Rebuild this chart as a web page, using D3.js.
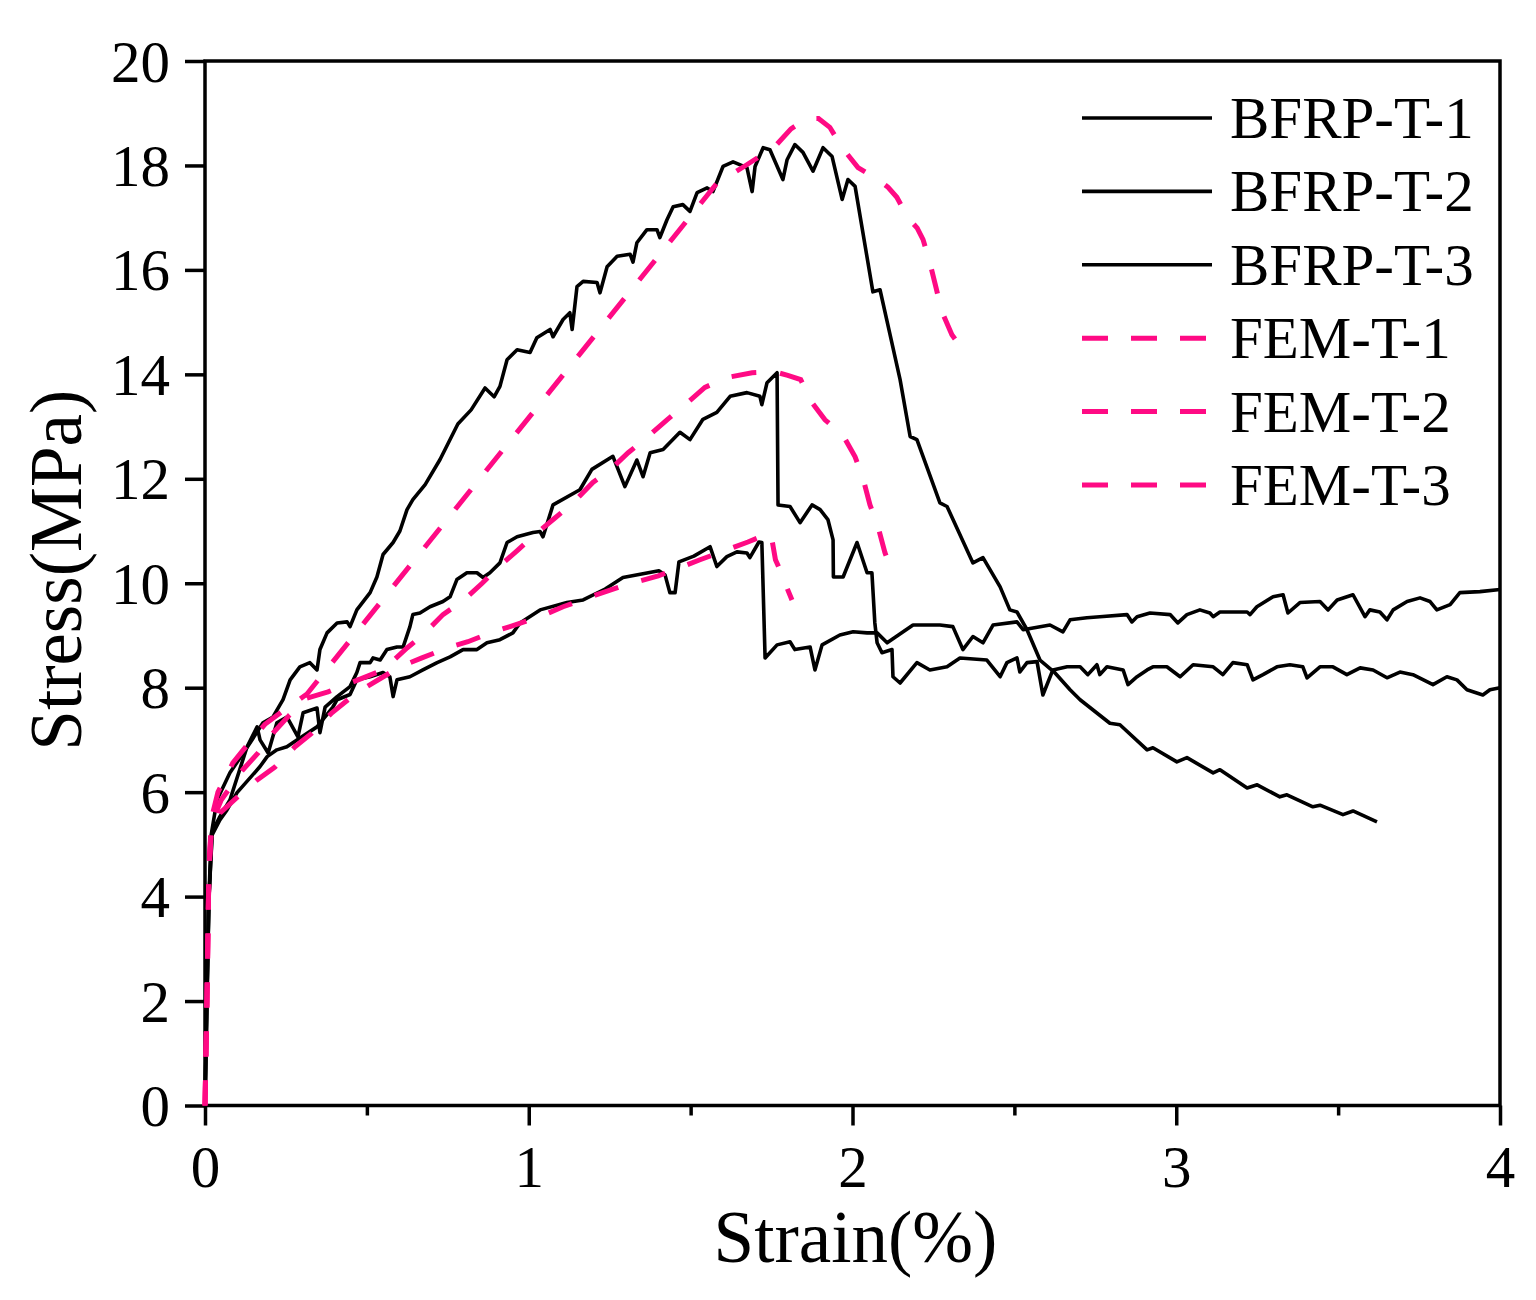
<!DOCTYPE html>
<html>
<head>
<meta charset="utf-8">
<script src="https://cdn.jsdelivr.net/npm/d3@7"></script>
<style>
  body { margin: 0; background: #fff; }
  svg { display: block; }
</style>
</head>
<body>
<svg id="chart" width="1536" height="1300"></svg>
<script>
// axis ticks
const xTicks = [0, 1, 2, 3, 4];
const xMinorTicks = [0.5, 1.5, 2.5, 3.5];
const yTicks = [0, 2, 4, 6, 8, 10, 12, 14, 16, 18, 20];

const seriesNames = ['BFRP-T-1', 'BFRP-T-2', 'BFRP-T-3', 'FEM-T-1', 'FEM-T-2', 'FEM-T-3'];

// test curves, [strain %, stress MPa]
const bfrpT1 = [[0,0],[0.006,2.02],[0.012,3.94],[0.019,5.18],[0.037,5.85],[0.077,6.37],[0.139,6.94],[0.179,7.33],[0.210,7.44],
  [0.241,7.77],[0.263,8.15],[0.293,8.40],[0.324,8.48],[0.346,8.34],[0.355,8.73],[0.377,9.05],[0.408,9.24],[0.439,9.26],
  [0.448,9.17],[0.469,9.49],[0.510,9.82],[0.531,10.12],[0.550,10.55],[0.581,10.78],[0.602,11.00],[0.624,11.41],[0.642,11.60],
  [0.680,11.89],[0.726,12.37],[0.781,13.05],[0.822,13.32],[0.865,13.74],[0.893,13.57],[0.911,13.77],[0.933,14.28],[0.964,14.47],
  [1.004,14.42],[1.025,14.70],[1.066,14.86],[1.075,14.72],[1.106,15.05],[1.127,15.18],[1.134,14.86],[1.149,15.68],[1.168,15.78],
  [1.211,15.76],[1.220,15.56],[1.242,16.06],[1.273,16.26],[1.313,16.30],[1.322,16.15],[1.334,16.52],[1.365,16.77],[1.396,16.77],
  [1.405,16.62],[1.427,16.96],[1.446,17.21],[1.476,17.25],[1.498,17.12],[1.520,17.48],[1.551,17.57],[1.569,17.50],[1.600,17.98],
  [1.631,18.07],[1.674,17.96],[1.690,17.50],[1.699,17.98],[1.724,18.34],[1.745,18.30],[1.785,17.73],[1.798,18.11],[1.822,18.40],
  [1.847,18.25],[1.878,17.89],[1.909,18.34],[1.937,18.17],[1.968,17.35],[1.986,17.73],[2.008,17.60],[2.063,15.58],[2.085,15.62],
  [2.116,14.76],[2.147,13.90],[2.178,12.81],[2.199,12.75],[2.270,11.54],[2.292,11.47],[2.372,10.39],[2.403,10.49],[2.456,9.93],
  [2.486,9.49],[2.508,9.45],[2.539,9.11],[2.579,8.53],[2.623,8.30],[2.672,7.96],[2.703,7.77],[2.795,7.32],[2.826,7.29],
  [2.910,6.81],[2.928,6.85],[3.002,6.58],[3.033,6.66],[3.114,6.37],[3.135,6.43],[3.219,6.08],[3.250,6.14],[3.320,5.91],
  [3.342,5.95],[3.422,5.72],[3.444,5.75],[3.515,5.57],[3.546,5.64],[3.620,5.43]];

const bfrpT2 = [[0,0],[0.006,2.02],[0.012,3.94],[0.022,5.24],[0.046,5.53],[0.077,5.85],[0.130,6.87],[0.161,7.25],[0.170,7.00],
  [0.195,6.75],[0.222,7.33],[0.253,7.44],[0.287,7.06],[0.303,7.52],[0.346,7.61],[0.355,7.14],[0.371,7.63],[0.408,7.83],
  [0.448,8.02],[0.469,8.29],[0.479,8.48],[0.510,8.48],[0.519,8.57],[0.541,8.53],[0.562,8.73],[0.593,8.78],[0.612,8.78],
  [0.633,9.17],[0.642,9.40],[0.664,9.43],[0.695,9.55],[0.735,9.65],[0.757,9.74],[0.778,10.07],[0.809,10.20],[0.840,10.20],
  [0.859,10.11],[0.880,10.20],[0.911,10.39],[0.933,10.78],[0.964,10.89],[1.013,10.97],[1.035,10.99],[1.044,10.89],[1.075,11.50],
  [1.158,11.79],[1.195,12.18],[1.260,12.43],[1.297,11.85],[1.334,12.36],[1.353,12.04],[1.375,12.50],[1.415,12.56],[1.467,12.89],
  [1.498,12.75],[1.538,13.14],[1.581,13.27],[1.622,13.58],[1.674,13.65],[1.714,13.58],[1.720,13.42],[1.736,13.84],[1.767,14.03],
  [1.770,11.50],[1.807,11.47],[1.838,11.16],[1.875,11.50],[1.900,11.41],[1.924,11.22],[1.940,10.83],[1.941,10.12],[1.971,10.12],
  [2.014,10.78],[2.045,10.20],[2.060,10.20],[2.069,9.24],[2.076,8.86],[2.091,8.67],[2.122,8.73],[2.125,8.21],[2.147,8.09],
  [2.199,8.48],[2.239,8.34],[2.292,8.40],[2.332,8.57],[2.415,8.53],[2.456,8.21],[2.477,8.48],[2.508,8.57],[2.517,8.30],
  [2.539,8.48],[2.570,8.50],[2.588,7.86],[2.619,8.34],[2.663,8.40],[2.703,8.40],[2.727,8.25],[2.755,8.44],[2.764,8.25],
  [2.786,8.40],[2.836,8.34],[2.851,8.06],[2.879,8.21],[2.910,8.34],[2.928,8.40],[2.971,8.40],[3.012,8.21],[3.052,8.44],
  [3.114,8.40],[3.144,8.25],[3.175,8.48],[3.219,8.44],[3.237,8.15],[3.268,8.25],[3.311,8.40],[3.351,8.44],[3.391,8.40],
  [3.404,8.19],[3.444,8.40],[3.484,8.40],[3.527,8.25],[3.568,8.38],[3.608,8.34],[3.651,8.19],[3.691,8.30],[3.731,8.25],
  [3.793,8.06],[3.836,8.21],[3.867,8.15],[3.898,7.96],[3.947,7.86],[3.969,7.96],[4.000,8.00]];

const bfrpT3 = [[0,0],[0.006,2.02],[0.012,3.94],[0.022,5.18],[0.046,5.47],[0.068,5.66],[0.099,5.99],[0.170,6.49],[0.192,6.68],
  [0.222,6.81],[0.253,6.87],[0.284,7.00],[0.346,7.25],[0.395,7.63],[0.408,7.77],[0.448,7.87],[0.469,8.15],[0.510,8.21],
  [0.550,8.29],[0.571,8.21],[0.581,7.83],[0.593,8.15],[0.633,8.21],[0.673,8.34],[0.717,8.48],[0.757,8.59],[0.797,8.73],
  [0.840,8.73],[0.871,8.86],[0.911,8.92],[0.951,9.05],[0.973,9.24],[1.035,9.49],[1.118,9.63],[1.168,9.68],[1.236,9.89],
  [1.291,10.11],[1.402,10.24],[1.421,10.16],[1.436,9.82],[1.452,9.82],[1.464,10.41],[1.510,10.52],[1.560,10.70],[1.581,10.32],
  [1.612,10.51],[1.643,10.60],[1.674,10.58],[1.683,10.49],[1.711,10.79],[1.720,10.78],[1.730,8.57],[1.767,8.82],[1.807,8.88],
  [1.822,8.73],[1.869,8.78],[1.884,8.34],[1.906,8.82],[1.961,9.01],[2.002,9.07],[2.045,9.05],[2.076,9.05],[2.107,8.86],
  [2.187,9.20],[2.270,9.20],[2.310,9.17],[2.341,8.73],[2.372,8.98],[2.403,8.86],[2.434,9.20],[2.508,9.26],[2.527,9.11],
  [2.610,9.20],[2.650,9.07],[2.672,9.30],[2.724,9.34],[2.764,9.36],[2.848,9.40],[2.863,9.26],[2.879,9.36],[2.919,9.43],
  [2.981,9.40],[3.005,9.24],[3.033,9.40],[3.073,9.49],[3.104,9.43],[3.114,9.36],[3.135,9.45],[3.219,9.45],[3.228,9.40],
  [3.249,9.55],[3.299,9.74],[3.330,9.78],[3.345,9.43],[3.382,9.63],[3.444,9.65],[3.469,9.49],[3.497,9.68],[3.546,9.78],
  [3.583,9.36],[3.598,9.49],[3.629,9.45],[3.651,9.30],[3.670,9.49],[3.713,9.65],[3.753,9.72],[3.784,9.65],[3.805,9.49],
  [3.846,9.59],[3.876,9.82],[3.938,9.84],[4.000,9.88]];

// finite element curves
const femT1 = [[0,0],[0.006,2.0],[0.012,4.5],[0.02,5.5],[0.04,6.0],[0.086,6.56],[0.13,6.9],[0.185,7.3],[0.24,7.55],[0.315,7.88],
  [1.58,17.65],[1.665,17.98],[1.72,18.2],[1.76,18.36],[1.81,18.7],[1.86,18.9],[1.895,18.9],[1.93,18.73],[1.968,18.34],
  [2.017,17.96],[2.079,17.73],[2.11,17.58],[2.137,17.39],[2.171,17.0],[2.2,16.8],[2.218,16.58],[2.239,16.14],[2.258,15.66],
  [2.276,15.2],[2.307,14.76],[2.351,14.38]];

const femT2 = [[0,0],[0.006,2.0],[0.012,4.5],[0.02,5.4],[0.05,5.85],[0.117,6.43],[0.164,6.75],[0.21,7.13],[0.26,7.47],[0.315,7.8],
  [0.38,7.92],[0.457,8.11],[0.55,8.34],[0.624,8.76],[0.673,9.01],[0.735,9.4],[0.794,9.65],[0.856,10.0],[0.905,10.3],
  [0.967,10.64],[1.019,10.93],[1.081,11.25],[1.137,11.54],[1.198,11.93],[1.251,12.17],[1.307,12.5],[1.365,12.79],[1.427,13.13],
  [1.483,13.42],[1.544,13.75],[1.612,13.94],[1.69,14.03],[1.76,14.05],[1.80,13.98],[1.84,13.9],[1.869,13.51],[1.915,13.13],
  [1.97,12.84],[2.008,12.42],[2.032,12.02],[2.054,11.5],[2.079,11.08],[2.1,10.59],[2.125,10.16]];

const femT3 = [[0,0],[0.006,2.0],[0.012,4.5],[0.02,5.3],[0.046,5.6],[0.099,5.9],[0.16,6.23],[0.216,6.48],[0.278,6.87],[0.33,7.13],
  [0.392,7.52],[0.442,7.77],[0.50,8.02],[0.602,8.4],[0.67,8.57],[0.747,8.76],[0.812,8.88],[0.89,9.07],[0.942,9.17],[1.035,9.36],
  [1.106,9.55],[1.2,9.76],[1.3,9.97],[1.4,10.14],[1.467,10.3],[1.529,10.45],[1.612,10.64],[1.677,10.79],[1.72,10.9],
  [1.748,10.95],[1.755,10.7],[1.762,10.45],[1.78,10.2],[1.795,9.95],[1.813,9.68]];

const FONT = '"Times New Roman", "Liberation Serif", serif';
const PINK = '#ff0a84';

const svg = d3.select('#chart');
const plot = { left: 205, right: 1500, top: 61, bottom: 1105.5 };

const x = d3.scaleLinear().domain([0, 4]).range([plot.left, plot.right]);
const y = d3.scaleLinear().domain([0, 20]).range([plot.bottom, plot.top]);

// axes
const xAxis = svg.append('g')
  .attr('transform', `translate(0,${plot.bottom})`)
  .call(d3.axisBottom(x).tickValues(xTicks).tickSize(20).tickSizeOuter(0).tickPadding(20).tickFormat(d3.format('d')));
const xMinor = svg.append('g')
  .attr('transform', `translate(0,${plot.bottom})`)
  .call(d3.axisBottom(x).tickValues(xMinorTicks).tickSize(10).tickSizeOuter(0).tickFormat(''));
const yAxis = svg.append('g')
  .attr('transform', `translate(${plot.left},0)`)
  .call(d3.axisLeft(y).tickValues(yTicks).tickSize(20).tickSizeOuter(0).tickPadding(15).tickFormat(d3.format('d')));

[xAxis, xMinor, yAxis].forEach(g => {
  g.select('.domain').remove();
  g.selectAll('.tick line').attr('stroke', '#000').attr('stroke-width', 3.5);
  g.selectAll('.tick text').attr('fill', '#000').style('font-family', FONT).style('font-size', '59px');
});
yAxis.selectAll('.tick text').attr('dy', '0.34em');

// frame
svg.append('rect')
  .attr('x', x(0)).attr('y', y(20))
  .attr('width', x(4) - x(0)).attr('height', y(0) - y(20))
  .attr('fill', 'none').attr('stroke', '#000').attr('stroke-width', 3.5);

// titles
svg.append('text')
  .attr('x', (plot.left + plot.right) / 2 + 3).attr('y', 1262)
  .attr('text-anchor', 'middle')
  .style('font-family', FONT).style('font-size', '73px')
  .text('Strain(%)');
svg.append('text')
  .attr('transform', `translate(81,${(plot.top + plot.bottom) / 2 - 13}) rotate(-90)`)
  .attr('text-anchor', 'middle')
  .style('font-family', FONT).style('font-size', '73px')
  .text('Stress(MPa)');

const line = d3.line().x(d => x(d[0])).y(d => y(d[1]));

const tests = [bfrpT1, bfrpT2, bfrpT3];
const models = [femT1, femT2, femT3];

svg.append('g').selectAll('path')
  .data(tests).enter().append('path')
  .attr('d', line)
  .attr('fill', 'none').attr('stroke', '#000').attr('stroke-width', 3.6)
  .attr('stroke-linejoin', 'round');

svg.append('g').selectAll('path')
  .data(models).enter().append('path')
  .attr('d', line)
  .attr('fill', 'none').attr('stroke', PINK).attr('stroke-width', 5)
  .attr('stroke-dasharray', '25,24');

// legend
const legend = svg.append('g').selectAll('g')
  .data(seriesNames).enter().append('g')
  .attr('transform', (d, i) => `translate(1082,${118 + i * 73.4})`);

legend.append('line')
  .attr('x1', 0).attr('x2', 130)
  .attr('stroke', (d, i) => i < 3 ? '#000' : PINK)
  .attr('stroke-width', (d, i) => i < 3 ? 3.6 : 5)
  .attr('stroke-dasharray', (d, i) => i < 3 ? null : '26,23');

legend.append('text')
  .attr('x', 148).attr('dy', '0.34em')
  .style('font-family', FONT).style('font-size', '59px')
  .text(d => d);
</script>
</body>
</html>
